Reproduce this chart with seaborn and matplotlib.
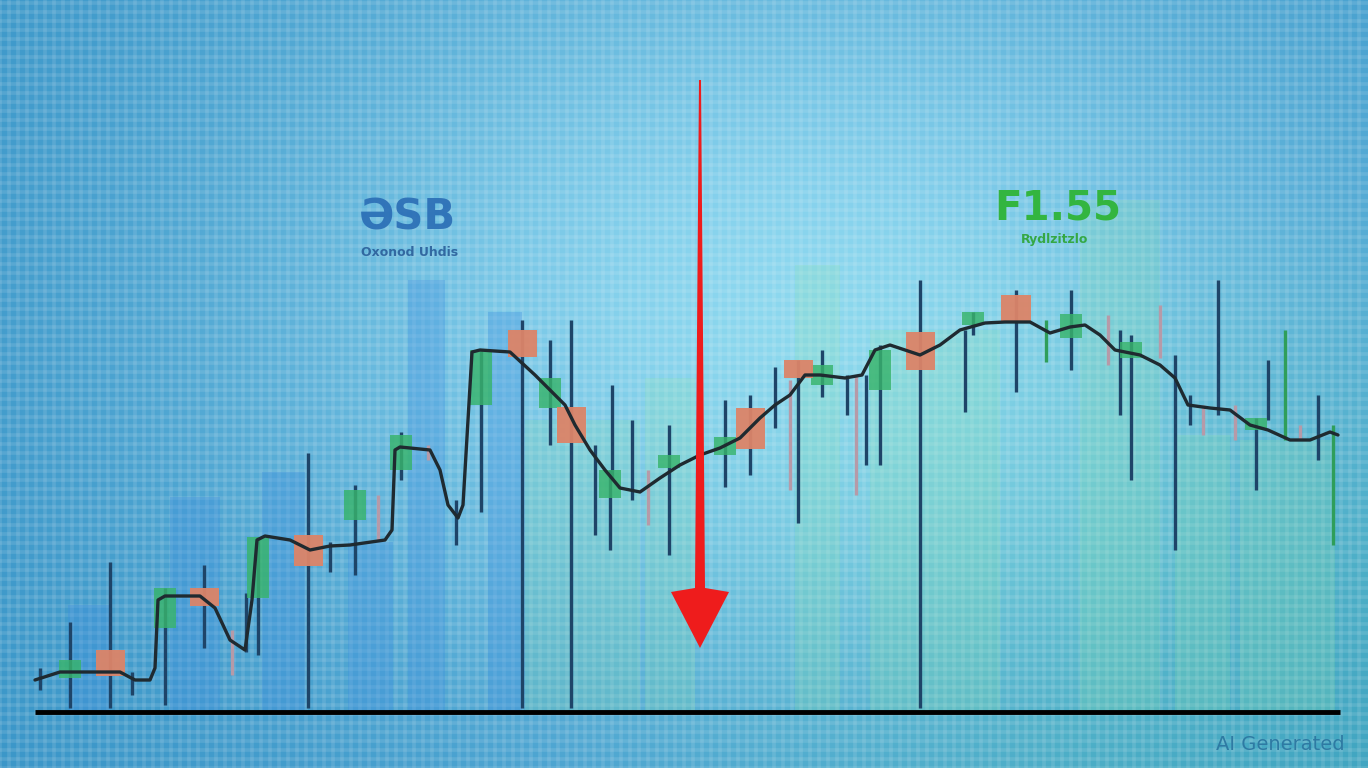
import numpy as np
import pandas as pd
import seaborn as sns
import matplotlib.pyplot as plt

sns.set_theme(style="white")
plt.rcParams['font.family'] = ['DejaVu Sans']

# Background volume bars (time, price height)
vol_blue_t = [8.9, 19.5, 28.35, 37.0, 42.65, 50.5]
vol_blue_w = [4.2, 5.0, 4.3, 4.5, 3.7, 3.4]
vol_blue_h = [107, 215, 240, 170, 432, 400]

vol_green_t = [58.25, 67.0, 81.75, 93.5, 112.0, 120.25, 128.75]
vol_green_w = [11.5, 5.0, 4.5, 13.0, 8.0, 5.5, 9.5]
vol_green_h = [292, 334, 447, 382, 512, 277, 272]

# Candles with bodies
candle_t = [7.0, 11.0, 16.5, 20.4, 25.8, 30.8, 35.5, 40.1, 48.1, 52.2, 55.0, 57.1,
            61.0, 66.9, 72.5, 75.0, 79.8, 82.2, 88.0, 92.0, 97.3, 101.6, 107.1,
            113.1, 125.6]
candle_open = [34, 62, 84, 124, 114, 177, 192, 242, 307, 382, 304, 305,
               214, 244, 257, 304, 352, 327, 322, 380, 387, 417, 374, 354, 282]
candle_close = [52, 36, 124, 106, 175, 146, 222, 277, 362, 355, 334, 269,
                242, 257, 275, 263, 334, 347, 362, 342, 400, 390, 398, 370, 294]
candle_high = [90, 150, 124, 147, 175, 259, 227, 280, 362, 392, 372, 392,
               242, 287, 312, 317, 352, 362, 367, 432, 400, 422, 422, 377, 294]
candle_low = [4, 4, 7, 64, 57, 4, 137, 232, 200, 4, 267, 4,
              162, 157, 225, 237, 189, 315, 247, 4, 377, 320, 342, 232, 222]

# Wick-only sticks
stick_t = [4.0, 13.2, 23.2, 24.6, 33.0, 37.8, 42.8, 45.6, 59.5, 61.2, 63.2, 64.8,
           77.5, 79.0, 84.7, 85.6, 86.6, 96.5, 104.6, 110.8, 112.0, 116.0, 117.5,
           119.0, 120.3, 121.8, 123.5, 126.8, 128.5, 130.0, 131.8, 133.3]
stick_high = [44, 40, 82, 119, 170, 217, 267, 212, 267, 327, 292, 242,
              345, 332, 337, 337, 337, 382, 392, 397, 382, 407, 357,
              317, 307, 432, 307, 352, 382, 287, 317, 287]
stick_low = [22, 17, 37, 60, 140, 172, 252, 167, 177, 232, 212, 187,
             284, 222, 297, 217, 247, 300, 350, 347, 297, 354, 162,
             287, 277, 297, 272, 292, 272, 272, 252, 167]
stick_tone = ["dark", "dark", "pink", "dark", "dark", "pink", "pink", "dark", "dark", "dark",
              "dark", "pink", "dark", "pink", "dark", "pink", "dark", "dark", "green", "pink",
              "dark", "pink", "dark", "dark", "pink", "dark", "pink", "dark", "green", "pink",
              "dark", "green"]

# Smoothed trend line
trend_t = [3.5, 6.0, 10.0, 12.0, 13.5, 15.0, 15.5, 15.8, 16.5, 20.0, 21.5, 23.0, 24.5,
           25.2, 25.7, 26.5, 29.0, 31.0, 33.0, 35.0, 38.5, 39.2, 39.5, 40.0, 43.0, 44.0,
           44.8, 45.8, 46.3, 46.8, 47.2, 48.0, 51.0, 53.5, 55.0, 56.5, 57.5, 59.0, 60.5,
           62.0, 64.0, 66.0, 68.0, 70.0, 72.0, 74.0, 76.0, 77.5, 79.0, 80.5, 82.0, 84.5,
           86.2, 87.5, 89.0, 90.5, 92.0, 94.0, 96.0, 98.5, 100.5, 103.0, 105.0, 107.0,
           108.5, 110.0, 111.5, 114.0, 116.0, 117.5, 118.8, 121.0, 123.0, 125.0, 126.8,
           129.0, 131.0, 133.0, 133.8]
trend_v = [32, 40, 40, 40, 32, 32, 44, 112, 116, 116, 104, 72, 62,
           112, 172, 176, 172, 162, 166, 167, 172, 182, 262, 265, 262, 242,
           207, 194, 207, 292, 360, 362, 360, 337, 322, 307, 287, 262, 242,
           224, 220, 234, 247, 257, 264, 274, 294, 307, 317, 337, 337, 334,
           337, 362, 367, 362, 357, 367, 382, 389, 390, 390, 379, 385,
           387, 377, 362, 357, 347, 334, 307, 304, 302, 287, 282,
           272, 272, 280, 277]

# Red arrow
arrow_t = 70.0
arrow_top = 632
arrow_head = 124
arrow_tip = 64

labels = {"left_big": "ƏSB", "left_small": "Oxonod Uhdis",
          "right_big": "F1.55", "right_small": "Rydlzitzlo"}

fig = plt.figure(figsize=(13.68, 7.68), dpi=100)
ax = fig.add_axes([0, 0, 1, 1])
xmin, xmax, ymin, ymax = 0, 136.8, -56, 712

# Background gradient
gx, gy = np.meshgrid(np.linspace(0, 1, 200), np.linspace(1, 0, 120))
w = np.exp(-((gx - 0.58) / 0.42) ** 2 - ((gy - 0.6) / 0.55) ** 2)
edge = np.array([0.22, 0.58, 0.78])
center = np.array([0.55, 0.84, 0.94])
bg = edge + (center - edge) * w[..., None]
green = np.clip((gx - 0.4) * 2.5, 0, 1) * np.clip((0.75 - gy) * 2, 0, 1)
bg[..., 1] += 0.04 * green
bg[..., 2] -= 0.04 * green
ax.imshow(np.clip(bg, 0, 1), extent=[xmin, xmax, ymin, ymax], aspect="auto",
          interpolation="bicubic", zorder=0)

# Checker grid
ax.set_xticks(np.arange(xmin, xmax, 0.9))
ax.set_yticks(np.arange(ymin, ymax, 9))
ax.grid(True, color="white", alpha=0.11, linewidth=2.6)
ax.tick_params(labelbottom=False, labelleft=False, length=0)

# Volume bars
ax.bar(vol_blue_t, vol_blue_h, width=vol_blue_w, color="#3f8fe0", alpha=0.32,
       linewidth=0, zorder=2)
ax.bar(vol_green_t, vol_green_h, width=vol_green_w, color="#8be6a8", alpha=0.2,
       linewidth=0, zorder=2)

# Wicks
tone_colors = {"dark": "#1e4468", "pink": "#b69aa8", "green": "#2f9e5a"}
ax.vlines(stick_t, stick_low, stick_high, colors=[tone_colors[s] for s in stick_tone],
          linewidth=2.4, zorder=3)
ax.vlines(candle_t, candle_low, candle_high, colors="#1e4468", linewidth=2.4, zorder=3)

# Candle bodies
candles = pd.DataFrame({"t": candle_t, "open": candle_open, "close": candle_close})
up = candles[candles["close"] >= candles["open"]]
down = candles[candles["close"] < candles["open"]]
ax.bar(up["t"], up["close"] - up["open"], bottom=up["open"], width=2.2,
       color="#38b46c", alpha=0.82, linewidth=0, zorder=4)
ax.bar(down["t"], down["open"] - down["close"], bottom=down["close"], width=2.9,
       color="#dc8468", alpha=0.95, linewidth=0, zorder=4)

# Trend line
trend = pd.DataFrame({"t": trend_t, "v": trend_v})
sns.lineplot(data=trend, x="t", y="v", ax=ax, color="#1f2a30", linewidth=2.4,
             sort=False, zorder=5, solid_joinstyle="round", solid_capstyle="round")

# Baseline
ax.hlines(0, 3.5, 134.0, color="black", linewidth=3.5, zorder=6)

# Red arrow
ax.fill([arrow_t - 0.1, arrow_t + 0.1, arrow_t + 0.5, arrow_t + 2.9, arrow_t,
         arrow_t - 2.9, arrow_t - 0.5],
        [arrow_top, arrow_top, arrow_head, arrow_head - 4, arrow_tip,
         arrow_head - 4, arrow_head], color="#ee1c1c", zorder=7, linewidth=0)

# Texts
ax.text(40.7, 494, labels["left_big"], fontsize=30, fontweight="semibold",
        color="#2a6db5", ha="center", va="center", alpha=0.9, zorder=8)
ax.text(41.0, 459, labels["left_small"], fontsize=9, fontweight="bold",
        color="#2a5f9a", ha="center", va="center", alpha=0.9, zorder=8)
ax.text(105.8, 504, labels["right_big"], fontsize=29, fontweight="bold",
        color="#33b540", ha="center", va="center", zorder=8)
ax.text(105.5, 472, labels["right_small"], fontsize=9, fontweight="bold",
        color="#35a845", ha="center", va="center", zorder=8)
ax.text(128.0, -33, "AI Generated", fontsize=14, color="#2e7aa3",
        ha="center", va="center", zorder=8)

ax.set_xlim(xmin, xmax)
ax.set_ylim(ymin, ymax)
ax.set_xlabel("")
ax.set_ylabel("")
for s in ax.spines.values():
    s.set_visible(False)

fig.savefig("out.png", dpi=100)
